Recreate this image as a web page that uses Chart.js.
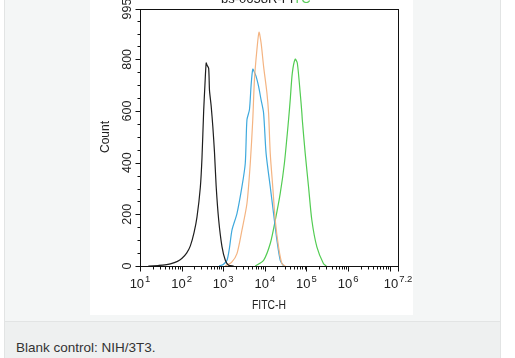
<!DOCTYPE html>
<html>
<head>
<meta charset="utf-8">
<script src="https://cdn.jsdelivr.net/npm/chart.js@4"></script>
<style>
  body { margin: 0; background: #fff; font-family: "Liberation Sans", Arial, sans-serif; }
  #panel { position: absolute; left: 4px; top: -2px; width: 495px; height: 323px;
           background: #f4f6f6; border: 1px solid #e2e4e4; border-top: none; }
  #caption { position: absolute; left: 4px; top: 322px; width: 495px; height: 40px;
             background: #eef0f0; border-left: 1px solid #e2e4e4; border-right: 1px solid #e2e4e4; }
  #caption span { position: absolute; left: 11px; top: 18px; font-size: 13.5px; color: #333; }
  #wrap { position: absolute; left: 90px; top: 0; width: 323px; height: 315px; background: #fff; }
</style>
</head>
<body>
<div id="panel"></div>
<div id="caption"><span>Blank control: NIH/3T3.</span></div>
<div id="wrap"><canvas id="myChart" width="323" height="315"></canvas></div>
<script>
// x values are in decades (log10 of FITC-H), y is count
var blackX = [1.2, 1.44, 1.6, 1.73, 1.9, 2.01, 2.12, 2.21, 2.3, 2.37, 2.45, 2.49, 2.53, 2.56, 2.59, 2.61, 2.65, 2.67, 2.71, 2.75, 2.79, 2.83, 2.89, 2.97, 3.05, 3.13, 3.25];
var blackY = [0, 2, 4, 8, 18, 30, 50, 78, 130, 190, 305, 420, 600, 700, 786, 778, 765, 680, 620, 540, 440, 310, 180, 75, 22, 3, 0];

var blueX = [2.9, 3.0, 3.09, 3.15, 3.21, 3.33, 3.45, 3.53, 3.57, 3.63, 3.67, 3.71, 3.75, 3.79, 3.85, 3.91, 3.97, 4.03, 4.13, 4.21, 4.29, 4.37, 4.45];
var blueY = [0, 6, 22, 70, 139, 203, 307, 398, 566, 605, 700, 762, 750, 734, 695, 643, 592, 436, 307, 203, 100, 22, 0];

var orangeX = [3.05, 3.2, 3.33, 3.45, 3.57, 3.65, 3.71, 3.75, 3.81, 3.86, 3.91, 3.97, 4.05, 4.09, 4.13, 4.19, 4.25, 4.33, 4.41, 4.49];
var orangeY = [0, 14, 48, 139, 242, 398, 566, 721, 838, 905, 864, 773, 670, 592, 436, 307, 177, 74, 9, 0];

var greenX = [3.77, 3.97, 4.13, 4.25, 4.37, 4.47, 4.57, 4.61, 4.66, 4.73, 4.78, 4.85, 4.89, 4.9, 4.97, 5.05, 5.13, 5.25, 5.41, 5.48];
var greenY = [0, 22, 87, 177, 281, 398, 566, 643, 747, 801, 786, 670, 592, 566, 436, 307, 177, 74, 9, 0];

var xMajor = [1, 2, 3, 4, 5, 6, 7.2];
var xLabels = ["1", "2", "3", "4", "5", "6", "7.2"];
var yTicks = [0, 200, 400, 600, 800, 995];

function pts(xs, ys) {
  var out = [];
  for (var i = 0; i < xs.length; i++) out.push({ x: xs[i], y: ys[i] });
  return out;
}

var font = '"Liberation Sans", Arial, sans-serif';

// axes, ticks and labels drawn in FCS style
var axisPlugin = {
  id: "axisPlugin",
  afterDraw: function (chart) {
    var ctx = chart.ctx;
    var a = chart.chartArea;
    var xs = chart.scales.x, ys = chart.scales.y;
    ctx.save();
    ctx.strokeStyle = "#111";
    ctx.lineWidth = 1;
    ctx.strokeRect(Math.round(a.left) + 0.5, Math.round(a.top) + 0.5,
                   Math.round(a.right - a.left), Math.round(a.bottom - a.top));
    var bottom = Math.round(a.bottom) + 0.5;
    var left = Math.round(a.left) + 0.5;
    ctx.beginPath();
    // x major + minor ticks
    for (var d = 1; d <= 7; d++) {
      for (var k = 1; k <= 9; k++) {
        var v = d + Math.log10(k);
        if (v > 7.2) break;
        var px = Math.round(xs.getPixelForValue(v)) + 0.5;
        ctx.moveTo(px, bottom);
        ctx.lineTo(px, bottom + (k === 1 ? 5 : 3));
      }
    }
    var pe = Math.round(xs.getPixelForValue(7.2)) + 0.5;
    ctx.moveTo(pe, bottom); ctx.lineTo(pe, bottom + 5);
    // y ticks every 50
    for (var c = 0; c <= 995; c += 50) {
      var py = Math.round(ys.getPixelForValue(c)) + 0.5;
      ctx.moveTo(left, py);
      ctx.lineTo(left - (c % 200 === 0 ? 5 : 3), py);
    }
    var pt = Math.round(ys.getPixelForValue(995)) + 0.5;
    ctx.moveTo(left, pt); ctx.lineTo(left - 5, pt);
    ctx.stroke();

    ctx.fillStyle = "#222";
    // x tick labels 10^n
    for (var i = 0; i < xMajor.length; i++) {
      var x = xs.getPixelForValue(xMajor[i]);
      ctx.font = "13px " + font;
      var w1 = ctx.measureText("10").width;
      ctx.font = "9.5px " + font;
      var w2 = ctx.measureText(xLabels[i]).width;
      var sx = x - (w1 + w2 + 1) / 2;
      ctx.font = "13px " + font;
      ctx.textAlign = "left";
      ctx.textBaseline = "alphabetic";
      ctx.fillText("10", sx, 288);
      ctx.font = "9.5px " + font;
      ctx.fillText(xLabels[i], sx + w1 + 1, 282);
    }
    // x title
    ctx.save();
    ctx.translate(xs.getPixelForValue(4.1), 309);
    ctx.scale(0.8, 1);
    ctx.font = "13px " + font;
    ctx.textAlign = "center";
    ctx.fillText("FITC-H", 0, 0);
    ctx.restore();
    // y tick labels, rotated
    for (var j = 0; j < yTicks.length; j++) {
      ctx.save();
      ctx.translate(41, ys.getPixelForValue(yTicks[j]));
      ctx.rotate(-Math.PI / 2);
      ctx.font = "12.5px " + font;
      ctx.textAlign = "center";
      ctx.textBaseline = "alphabetic";
      ctx.fillText(String(yTicks[j]), 0, 0);
      ctx.restore();
    }
    // y title
    ctx.save();
    ctx.translate(19, 137);
    ctx.rotate(-Math.PI / 2);
    ctx.font = "12px " + font;
    ctx.textAlign = "center";
    ctx.fillText("Count", 0, 0);
    ctx.restore();
    // clipped title at the top
    ctx.font = "13px " + font;
    ctx.textAlign = "left";
    ctx.fillStyle = "#222";
    ctx.fillText("bs-0658R-FI", 131, 3);
    var tw = ctx.measureText("bs-0658R-FI").width;
    ctx.fillStyle = "#5ccc5c";
    ctx.fillText("TC", 131 + tw, 3);
    ctx.restore();
  }
};

var ctx = document.getElementById("myChart").getContext("2d");
var myChart = new Chart(ctx, {
  type: "line",
  data: {
    datasets: [
      { data: pts(blackX, blackY), borderColor: "#1e1e1e" },
      { data: pts(orangeX, orangeY), borderColor: "#f4b482" },
      { data: pts(blueX, blueY), borderColor: "#3fa9dd" },
      { data: pts(greenX, greenY), borderColor: "#52cc52" }
    ]
  },
  options: {
    responsive: false,
    animation: false,
    layout: { padding: { top: 9, right: 15, left: 0, bottom: 0 } },
    elements: {
      point: { radius: 0 },
      line: { borderWidth: 1.2, tension: 0.25, fill: false }
    },
    plugins: { legend: { display: false }, tooltip: { enabled: false } },
    scales: {
      x: {
        type: "linear", min: 1, max: 7.2,
        grid: { display: false }, border: { display: false },
        ticks: { display: false },
        afterFit: function (s) { s.height = 49; }
      },
      y: {
        min: 0, max: 995,
        grid: { display: false }, border: { display: false },
        ticks: { display: false },
        afterFit: function (s) { s.width = 50; }
      }
    }
  },
  plugins: [axisPlugin]
});
</script>
</body>
</html>
